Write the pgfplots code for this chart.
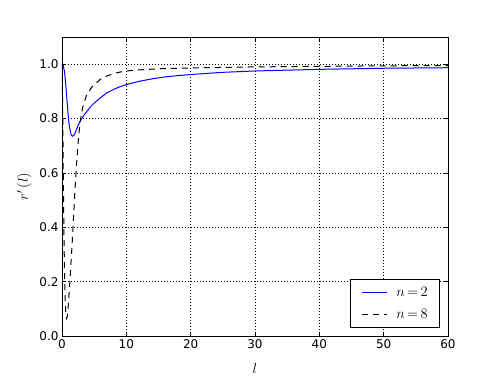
\documentclass[border=0pt]{standalone}
\usepackage{fontspec}
\setmainfont{DejaVu Sans}
\usepackage{pgfplots}
\pgfplotsset{compat=1.18}
\definecolor{mplblue}{RGB}{0,0,255}
\newcommand{\twelve}{\fontsize{12}{14}\selectfont}
\newcommand{\mathsz}{\fontsize{14.5}{17}\selectfont}

\begin{document}
\begin{tikzpicture}
\path (-62pt,-38pt) rectangle (436pt,336pt);
\begin{axis}[
  at={(0pt,0pt)}, anchor=south west,
  scale only axis, width=386pt, height=299pt,
  xmin=0, xmax=60, ymin=0, ymax=1.1,
  xtick={0,10,...,60}, ytick={0,0.2,0.4,0.6,0.8,1.0},
  yticklabel style={/pgf/number format/.cd, fixed, fixed zerofill, precision=1},
  /pgf/number format/assume math mode=true,
  ticklabel style={font=\twelve},
  tick align=inside, major tick length=4pt, tick style={black, line width=0.6pt},
  axis line style={black, line width=0.8pt},
  grid=major, grid style={black, line width=0.5pt, dash pattern=on 1pt off 2pt},
  xlabel={\mathsz$l$}, ylabel={\mathsz$r'\,(l)$},
  every axis x label/.style={at={(axis description cs:0.5,-0.110)}, anchor=center, font=\mathsz},
  every axis y label/.style={at={(axis description cs:-0.098,0.5)}, rotate=90, anchor=center, font=\mathsz},
  legend style={at={(0.979,0.027)}, anchor=south east, line width=0.6pt,
    font=\mathsz, inner xsep=5pt, inner ysep=6pt, row sep=7pt,
    nodes={inner xsep=7pt}},
  legend image code/.code={\path (-6pt,0pt) (27pt,0pt); \draw[#1] (0pt,0pt) -- (25pt,0pt);},
  legend cell align=left,
]
\addlegendimage{draw=mplblue, line width=1pt}
\addlegendentry{\mathsz$n\,{=}\,2$}
\addlegendimage{draw=black, line width=1pt, dash pattern=on 6pt off 5pt}
\addlegendentry{\mathsz$n\,{=}\,8$}
\addplot[mplblue, line width=1pt, forget plot] coordinates {
(0,1.0) (0.2,0.995) (0.4,0.97) (0.6,0.92) (0.8,0.86) (1.0,0.80) (1.2,0.765)
(1.4,0.742) (1.6,0.735) (1.8,0.737) (2.0,0.745) (2.5,0.775) (3.0,0.798)
(3.5,0.815) (4.0,0.83) (4.5,0.845) (5,0.857) (6,0.877) (7,0.895) (8,0.907)
(9,0.917) (10,0.925) (12,0.937) (14,0.946) (16,0.953) (18,0.958) (20,0.962)
(25,0.970) (30,0.975) (35,0.978) (40,0.981) (45,0.983) (50,0.985) (55,0.986) (60,0.987)
};
\addplot[black, line width=1pt, dash pattern=on 6pt off 5pt, forget plot] coordinates {
(0,1.0) (0.1,0.85) (0.2,0.6) (0.3,0.38) (0.4,0.22) (0.5,0.13) (0.6,0.08)
(0.7,0.065) (0.8,0.07) (0.9,0.09) (1.0,0.12) (1.2,0.19) (1.4,0.27) (1.6,0.35)
(1.8,0.44) (2.0,0.53) (2.2,0.61) (2.5,0.71) (2.8,0.785) (3.2,0.84) (3.8,0.885)
(4.6,0.915) (6,0.945) (7,0.957) (8,0.965) (9,0.971) (10,0.975) (12,0.979)
(15,0.983) (20,0.986) (30,0.99) (40,0.992) (50,0.994) (60,0.995)
};
\end{axis}
\end{tikzpicture}
\end{document}
